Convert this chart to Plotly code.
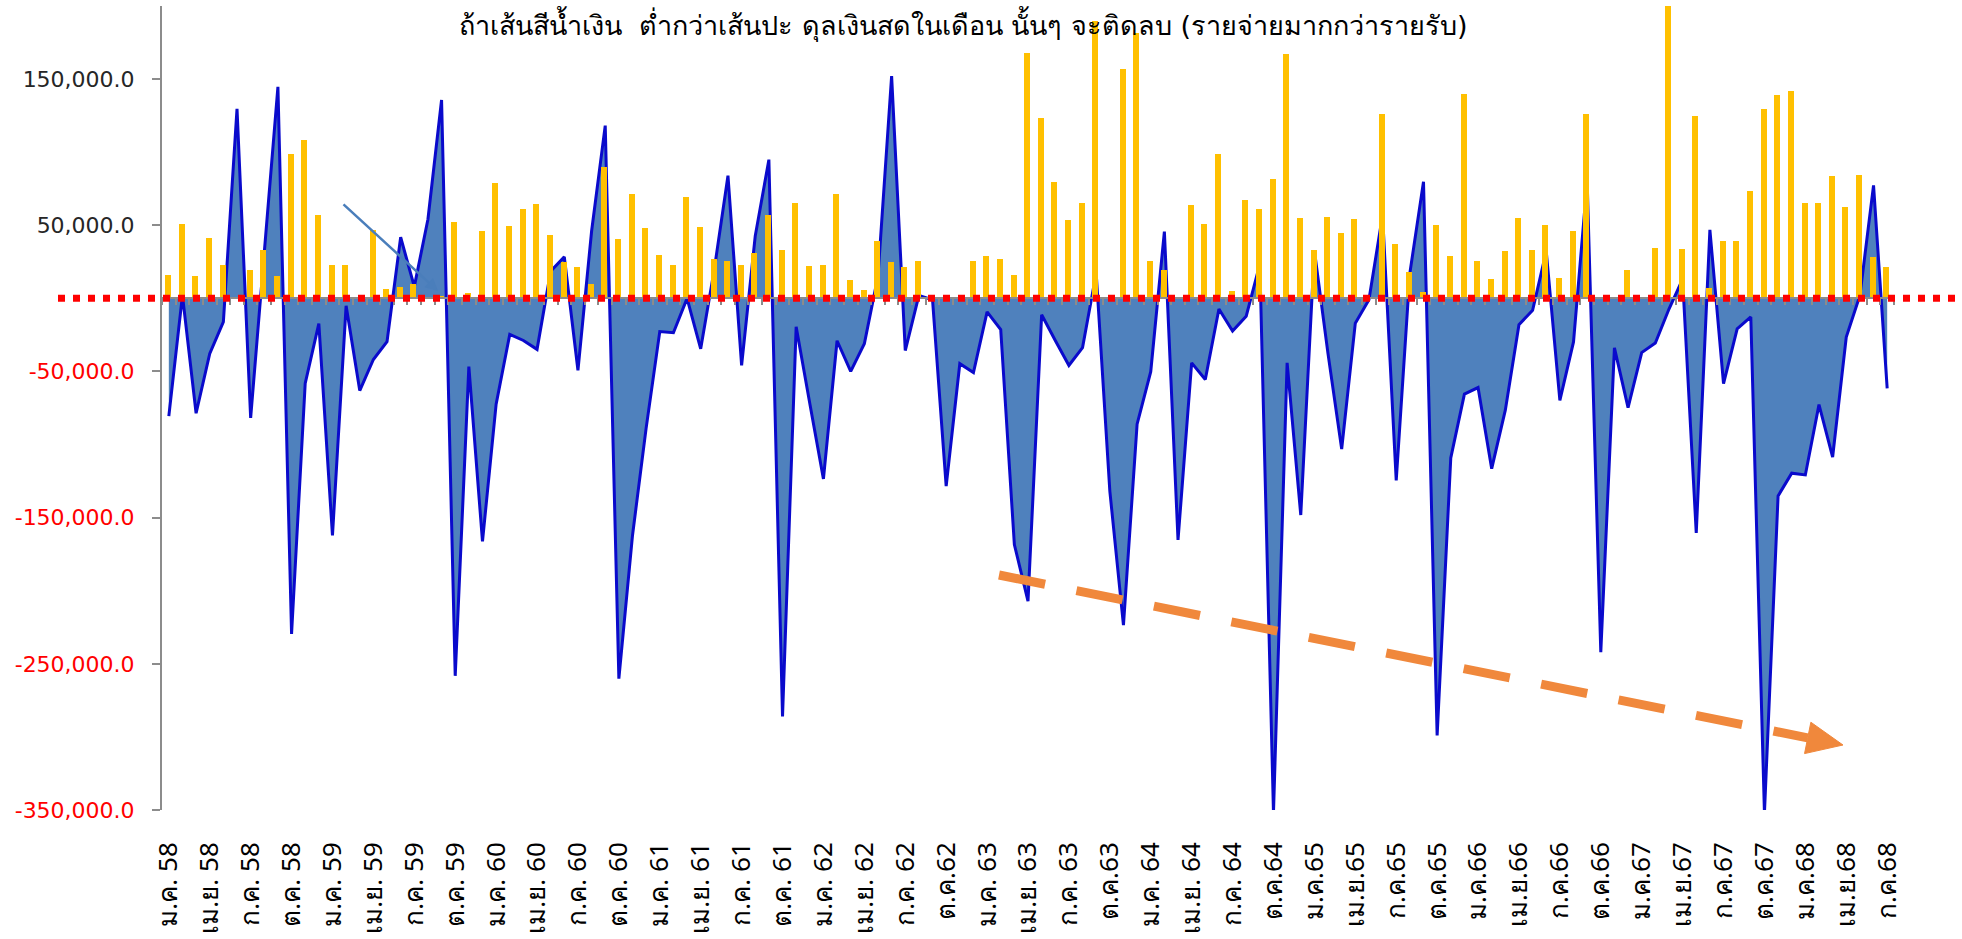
import plotly.graph_objects as go

# ---------------- data ----------------
tick_labels = ["ม.ค. 58", "เม.ย. 58", "ก.ค. 58", "ต.ค. 58",
               "ม.ค. 59", "เม.ย. 59", "ก.ค. 59", "ต.ค. 59",
               "ม.ค. 60", "เม.ย. 60", "ก.ค. 60", "ต.ค. 60",
               "ม.ค. 61", "เม.ย. 61", "ก.ค. 61", "ต.ค. 61",
               "ม.ค. 62", "เม.ย. 62", "ก.ค. 62", "ต.ค.62",
               "ม.ค. 63", "เม.ย. 63", "ก.ค. 63", "ต.ค.63",
               "ม.ค. 64", "เม.ย. 64", "ก.ค. 64", "ต.ค.64",
               "ม.ค.65", "เม.ย.65", "ก.ค.65", "ต.ค.65",
               "ม.ค.66", "เม.ย.66", "ก.ค.66", "ต.ค.66",
               "ม.ค.67", "เม.ย.67", "ก.ค.67", "ต.ค.67",
               "ม.ค.68", "เม.ย.68", "ก.ค.68"]

# monthly cash balance (blue area), Jan 2558 .. Jul 2568
balance = [
    -80600, 2000, -78600, -37800, -16100, 129600, -81800, 31000, 144700, -229600, -58200, -17300,
    -162200, -5100, -63100, -41800, -29600, 41800, 8000, 54100, 135700, -258200, -46700, -166300,
    -72400, -24700, -28800, -34900, 18600, 28400, -49200, 45900, 118200, -260200, -162200, -88800,
    -22700, -23500, 0, -34500, 20000, 83900, -45900, 42700, 94900, -286000, -19400, -72000,
    -123500, -29000, -50000, -31000, 15300, 152000, -35700, 2000, -1000, -128400, -44700, -50800,
    -9200, -21400, -168400, -207100, -11200, -28800, -45900, -33700, 17300, -131800, -223500, -86100,
    -50200, 45700, -165300, -44100, -55500, -7300, -22400, -12200, 23500, -352000, -44100, -148200,
    32700, -38000, -103100, -17000, -1000, 57000, -124500, 17300, 79800, -299000, -109200, -65500,
    -61000, -116500, -76500, -18000, -8200, 32200, -69800, -29800, 80400, -242000, -33900, -74700,
    -37100, -30600, -7300, 13100, -160400, 46900, -58400, -20800, -12700, -352000, -135100, -119600,
    -120800, -72700, -108600, -26500, 2000, 77300, -61600,
]

# yellow bars
bars = [
    16100, 50800, 15300, 41000, 23000, 0, 19400, 32900, 15300, 99000, 108400, 56900,
    23000, 23000, 0, 46700, 6700, 7600, 10000, 0, 1500, 52000, 3900, 46300,
    79000, 49600, 61000, 64300, 43500, 24700, 21400, 10000, 89600, 40600, 71200, 48000,
    30000, 23000, 69600, 48800, 26700, 25500, 23000, 30800, 57300, 33300, 65100, 22200,
    23000, 71200, 12800, 5500, 39000, 24700, 21400, 25500, 0, 0, 0, 25500,
    28800, 26700, 16100, 167600, 123500, 79800, 53700, 65100, 189800, 0, 156700, 181600,
    25300, 19200, 0, 64200, 50800, 99000, 5300, 67100, 60800, 81800, 167300, 55300,
    32800, 56000, 45000, 54000, 0, 126100, 37200, 18000, 4200, 50000, 29300, 140000,
    25700, 13100, 32200, 55100, 33000, 50000, 13700, 46300, 126100, 0, 0, 19200,
    0, 34700, 215000, 33900, 124500, 6900, 39200, 39200, 73500, 129400, 138800, 141600,
    65100, 65100, 83400, 62400, 84700, 28200, 21200,
]

y_tick_vals = [150000, 50000, -50000, -150000, -250000, -350000]
y_tick_text = ["150,000.0", "50,000.0", "-50,000.0", "-150,000.0", "-250,000.0", "-350,000.0"]

title_text = "ถ้าเส้นสีน้ำเงิน  ต่ำกว่าเส้นปะ ดุลเงินสดในเดือน นั้นๆ จะติดลบ (รายจ่ายมากกว่ารายรับ)"

# ---------------- geometry ----------------
W, H = 1962, 939
ML, MR, MT, MB = 162, 68, 6, 129
YMIN, YMAX = -350000, 200000
n = len(balance)
XMIN, XMAX = -0.5, n - 0.5
x = list(range(n))
tick_pos = list(range(0, n, 3))

px_per_x = (W - ML - MR) / (XMAX - XMIN)
px_per_y = (H - MT - MB) / (YMAX - YMIN)

def to_data(px, py):
    """full-page pixel -> data coords"""
    return XMIN + (px - ML) / px_per_x, YMAX - (py - MT) / px_per_y

def rich(label):
    if label.startswith("-"):
        return '<span style="color:#FF0000">' + label + '</span>'
    return '<span style="color:#262626">' + label + '</span>'

fig = go.Figure()

# blue area
fig.add_trace(go.Scatter(
    x=x, y=balance, mode="lines",
    line=dict(color="#0A0ACC", width=3),
    fill="tozeroy", fillcolor="#4F81BD",
    hoverinfo="skip", showlegend=False,
    xaxis="x", yaxis="y",
))

# axis line with category ticks at zero (dummy trace)
fig.add_trace(go.Scatter(
    x=[0], y=[0], mode="markers", marker=dict(opacity=0),
    hoverinfo="skip", showlegend=False, xaxis="x3", yaxis="y",
))

# yellow bars on overlay axis so they are drawn in front
fig.add_trace(go.Bar(
    x=x, y=bars, marker=dict(color="#FFC000", line=dict(width=0)),
    width=0.44, offset=-0.28,
    hoverinfo="skip", showlegend=False,
    xaxis="x", yaxis="y2",
))

zero_frac = (0 - YMIN) / (YMAX - YMIN)

fig.update_layout(
    width=W, height=H,
    margin=dict(l=ML, r=MR, t=MT, b=MB, pad=0, autoexpand=False),
    paper_bgcolor="white", plot_bgcolor="white",
    showlegend=False,
    bargap=0,
    font=dict(family="DejaVu Sans, Noto Sans, sans-serif", color="black"),
    xaxis=dict(
        range=[XMIN, XMAX], tickmode="array", tickvals=tick_pos, ticktext=tick_labels,
        tickangle=-90, tickfont=dict(size=26, color="black", family="Noto Sans, DejaVu Sans, sans-serif"),
        showgrid=False, zeroline=False, showline=False, ticks="",
        ticklabelstandoff=26, automargin=False,
    ),
    xaxis3=dict(
        range=[XMIN, XMAX], overlaying="x", anchor="free", position=zero_frac,
        showline=True, linecolor="#8C8C8C", linewidth=2,
        ticks="outside", ticklen=6, tickwidth=2, tickcolor="#8C8C8C",
        tick0=0.5, dtick=1, showticklabels=False, showgrid=False, zeroline=False,
        automargin=False,
    ),
    yaxis=dict(
        range=[YMIN, YMAX], tickmode="array", tickvals=y_tick_vals,
        ticktext=[rich(t) for t in y_tick_text],
        tickfont=dict(size=22, family="DejaVu Sans"),
        showline=True, linecolor="#8C8C8C", linewidth=2,
        ticks="outside", ticklen=8, tickwidth=2, tickcolor="#8C8C8C",
        showgrid=False, zeroline=False, ticklabelstandoff=13, automargin=False,
    ),
    yaxis2=dict(
        range=[YMIN, YMAX], overlaying="y", visible=False,
    ),
)

# red dotted zero line (extends beyond the plot area)
fig.add_shape(type="line", xref="paper", yref="y",
              x0=(58 - ML) / (W - ML - MR), x1=(W - ML) / (W - ML - MR), y0=0, y1=0,
              line=dict(color="#FF0000", width=7, dash="7px,8px"), layer="above")

# orange dashed trend arrow
ax0, ay0 = to_data(999, 575)
tipx_px, tipy_px = 1843, 745
dx, dy = tipx_px - 999, tipy_px - 575
L = (dx * dx + dy * dy) ** 0.5
ux, uy = dx / L, dy / L
head_len, head_half = 36, 16
bx_px, by_px = tipx_px - head_len * ux, tipy_px - head_len * uy
bx, by = to_data(bx_px, by_px)
fig.add_shape(type="line", xref="x", yref="y", x0=ax0, y0=ay0, x1=bx, y1=by,
              line=dict(color="#F0883C", width=9, dash="47px,32px"), layer="above")
c1 = to_data(bx_px - head_half * uy, by_px + head_half * ux)
c2 = to_data(bx_px + head_half * uy, by_px - head_half * ux)
tip = to_data(tipx_px, tipy_px)
path = "M {},{} L {},{} L {},{} Z".format(tip[0], tip[1], c1[0], c1[1], c2[0], c2[1])
fig.add_shape(type="path", xref="x", yref="y", path=path,
              fillcolor="#F0883C", line=dict(color="#F0883C", width=1), layer="above")

# thin blue pointer line
p0 = to_data(342, 203)
p1 = to_data(438, 291)
fig.add_annotation(x=p1[0], y=p1[1], ax=p0[0], ay=p0[1], axref="x", ayref="y",
                   xref="x", yref="y", text="", showarrow=True,
                   arrowhead=2, arrowsize=1, arrowwidth=2.5, arrowcolor="#4A7EBB")

# title
fig.add_annotation(x=(963 - ML) / (W - ML - MR), y=(H - MB - 25) / (H - MT - MB),
                   xref="paper", yref="paper", text=title_text, showarrow=False,
                   xanchor="center", yanchor="middle",
                   font=dict(size=27, color="black"))

fig.write_html("out.html", config={"displayModeBar": False},
               post_script="document.body.style.margin='0';")
